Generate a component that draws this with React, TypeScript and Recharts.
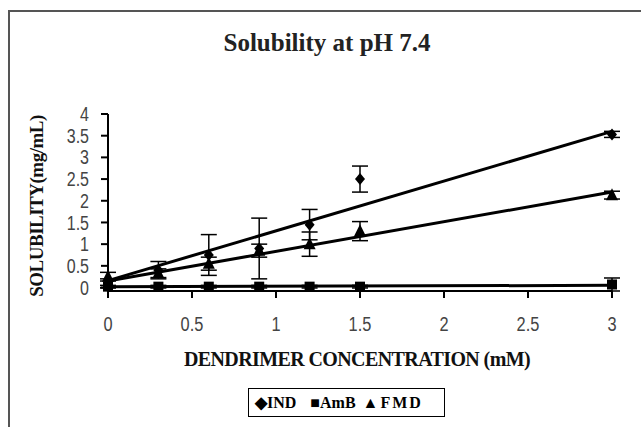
import React from "react";
import { ComposedChart, Scatter, XAxis, YAxis, ErrorBar } from "recharts";

const concentrations = [0, 0.3, 0.6, 0.9, 1.2, 1.5, 3];

const indValues = [0.1, 0.4, 0.75, 0.9, 1.45, 2.5, 3.53];
const indErrors = [0.1, 0.2, 0.47, 0.7, 0.35, 0.3, 0.07];

const ambValues = [0.02, 0.02, 0.02, 0.02, 0.02, 0.02, 0.07];
const ambErrors = [0.03, 0.03, 0.03, 0.03, 0.03, 0.03, 0.15];

const fmdValues = [0.25, 0.33, 0.55, 0.85, 1.0, 1.3, 2.13];
const fmdErrors = [0.1, 0.1, 0.15, 0.15, 0.28, 0.22, 0.09];

// trendline ends (x = 0 and x = 3)
const trendX = [0, 3];
const indTrend = [0.16, 3.6];
const ambTrend = [0.02, 0.05];
const fmdTrend = [0.15, 2.2];

const xTicks = [0, 0.5, 1, 1.5, 2, 2.5, 3];
const yTicks = [0, 0.5, 1, 1.5, 2, 2.5, 3, 3.5, 4];

const toPoints = (vals: number[], errs: number[]) =>
  concentrations.map((x, i) => ({ x, y: vals[i], err: errs[i] }));
const toLine = (vals: number[]) => trendX.map((x, i) => ({ x, y: vals[i] }));

const Diamond = ({ cx, cy }: any) => (
  <polygon points={`${cx},${cy - 6} ${cx + 5},${cy} ${cx},${cy + 6} ${cx - 5},${cy}`} fill="#000" />
);
const Square = ({ cx, cy }: any) => <rect x={cx - 5} y={cy - 5} width={10} height={10} fill="#000" />;
const Triangle = ({ cx, cy }: any) => (
  <polygon points={`${cx},${cy - 7} ${cx + 6},${cy + 5} ${cx - 6},${cy + 5}`} fill="#000" />
);
const NoDot = () => <g />;

const sans = "'Liberation Sans', Arial, sans-serif";
const serif = "'Liberation Serif', 'Times New Roman', serif";

// narrow-looking tick labels, like the original
const XTick = ({ x, y, payload }: any) => (
  <g transform={`translate(${x},${y})`}>
    <text transform="scale(0.78,1)" textAnchor="middle" dy="0.71em" fill="#444" fontSize={21} fontFamily={sans}>
      {payload.value}
    </text>
  </g>
);
const YTick = ({ x, y, payload }: any) => (
  <g transform={`translate(${x},${y})`}>
    <text transform="scale(0.8,1)" textAnchor="end" dy="0.355em" fill="#444" fontSize={20} fontFamily={sans}>
      {payload.value}
    </text>
  </g>
);

export default function App() {
  return (
    <div style={{ position: "fixed", left: 0, top: 0, width: 641, height: 427, background: "#fff", overflow: "hidden" }}>
      <div
        style={{
          position: "absolute",
          left: 8,
          top: 10,
          width: 700,
          height: 500,
          borderLeft: "2px solid #555",
          borderTop: "2px solid #555",
        }}
      />
      <div
        style={{
          position: "absolute",
          left: 327,
          top: 43,
          transform: "translate(-50%, -50%)",
          whiteSpace: "nowrap",
          fontFamily: serif,
          fontWeight: "bold",
          fontSize: 25,
          color: "#222",
        }}
      >
        Solubility at pH 7.4
      </div>
      <div
        style={{
          position: "absolute",
          left: 37,
          top: 206,
          transform: "translate(-50%, -50%) rotate(-90deg)",
          whiteSpace: "nowrap",
          fontFamily: serif,
          fontWeight: "bold",
          fontSize: 19,
          letterSpacing: -0.5,
          color: "#111",
        }}
      >
        SOLUBILITY(mg/mL)
      </div>
      <div
        style={{
          position: "absolute",
          left: 357,
          top: 359,
          transform: "translate(-50%, -50%)",
          whiteSpace: "nowrap",
          fontFamily: serif,
          fontWeight: "bold",
          fontSize: 20,
          letterSpacing: -0.6,
          color: "#111",
        }}
      >
        DENDRIMER CONCENTRATION (mM)
      </div>
      <div
        style={{
          position: "absolute",
          left: 248,
          top: 388,
          width: 197,
          height: 29,
          border: "1px solid #000",
          boxSizing: "border-box",
          display: "flex",
          alignItems: "center",
          paddingLeft: 6,
          fontFamily: serif,
          fontWeight: "bold",
          fontSize: 16,
          color: "#000",
          whiteSpace: "nowrap",
        }}
      >
        <span>◆IND</span>
        <span style={{ marginLeft: 14 }}>■AmB</span>
        <span style={{ marginLeft: 7, letterSpacing: 2 }}>▲FMD</span>
      </div>
      <div style={{ position: "absolute", left: 0, top: 0 }}>
        <ComposedChart width={641} height={427} margin={{ top: 114, right: 29, left: 58, bottom: 96 }}>
          <XAxis
            dataKey="x"
            type="number"
            domain={[0, 3]}
            ticks={xTicks}
            interval={0}
            height={40}
            stroke="#000"
            strokeWidth={2}
            tickSize={7}
            tickMargin={18}
            tick={<XTick />}
          />
          <YAxis
            dataKey="y"
            type="number"
            domain={[0, 4]}
            ticks={yTicks}
            interval={0}
            width={50}
            stroke="#000"
            strokeWidth={2}
            tickSize={7}
            tickMargin={12}
            tick={<YTick />}
          />
          <Scatter data={toLine(indTrend)} line={{ stroke: "#000", strokeWidth: 3 }} shape={NoDot} isAnimationActive={false} legendType="none" />
          <Scatter data={toLine(ambTrend)} line={{ stroke: "#000", strokeWidth: 3 }} shape={NoDot} isAnimationActive={false} legendType="none" />
          <Scatter data={toLine(fmdTrend)} line={{ stroke: "#000", strokeWidth: 3 }} shape={NoDot} isAnimationActive={false} legendType="none" />
          <Scatter name="IND" data={toPoints(indValues, indErrors)} shape={Diamond} isAnimationActive={false}>
            <ErrorBar dataKey="err" direction="y" width={8} stroke="#000" strokeWidth={1.5} />
          </Scatter>
          <Scatter name="AmB" data={toPoints(ambValues, ambErrors)} shape={Square} isAnimationActive={false}>
            <ErrorBar dataKey="err" direction="y" width={8} stroke="#000" strokeWidth={1.5} />
          </Scatter>
          <Scatter name="FMD" data={toPoints(fmdValues, fmdErrors)} shape={Triangle} isAnimationActive={false}>
            <ErrorBar dataKey="err" direction="y" width={8} stroke="#000" strokeWidth={1.5} />
          </Scatter>
        </ComposedChart>
      </div>
    </div>
  );
}
